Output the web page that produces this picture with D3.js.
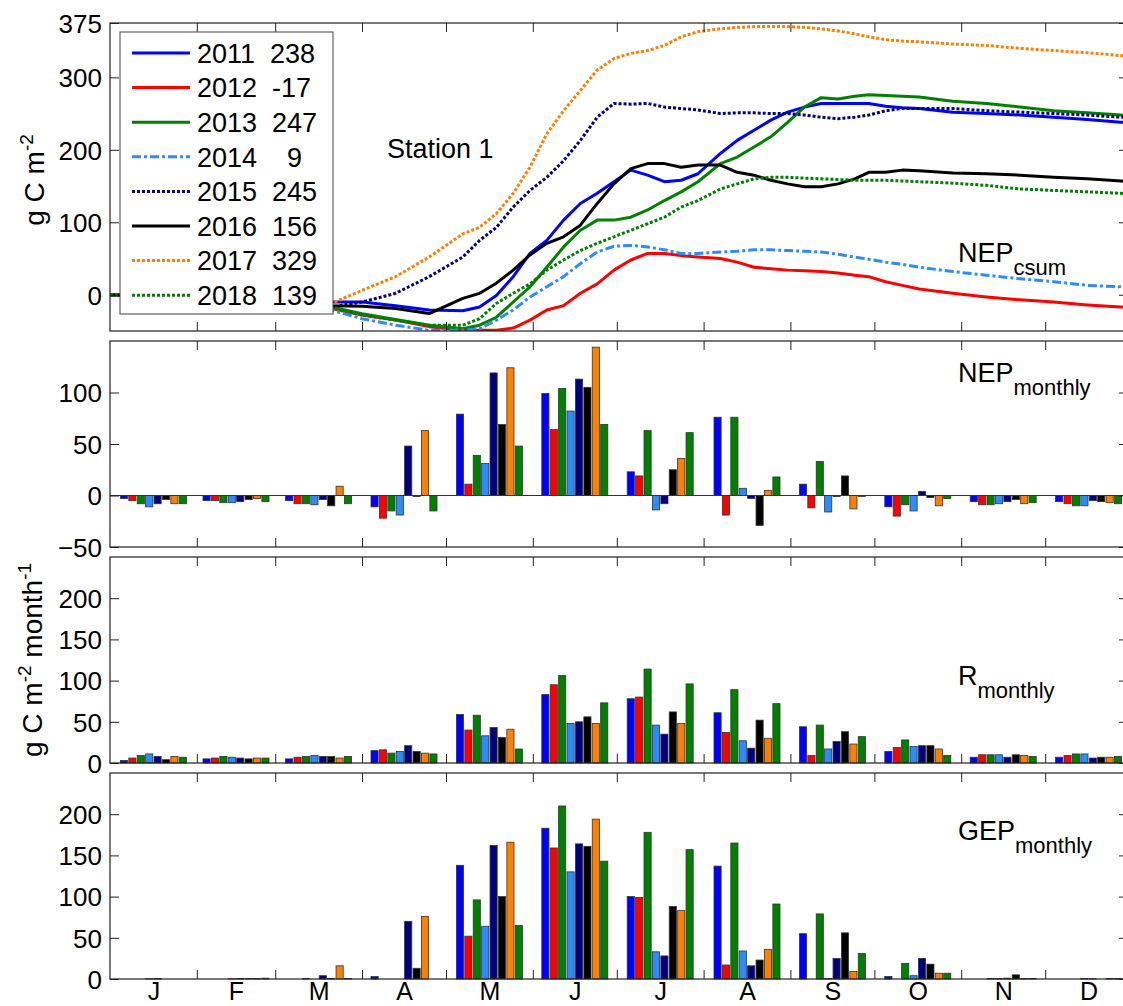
<!DOCTYPE html>
<html><head><meta charset="utf-8">
<script src="https://cdn.jsdelivr.net/npm/d3@7"></script>
<style>
body{margin:0;background:#fff}
svg{display:block}
text{font-family:"Liberation Sans",Arial,Helvetica,sans-serif;fill:#000}
</style>
</head><body>
<svg id="c" width="1123" height="1006"></svg>
<script>
// ---------------- DATA ----------------
const years = [2011, 2012, 2013, 2014, 2015, 2016, 2017, 2018];
const yearTotals = [238, -17, 247, 9, 245, 156, 329, 139];
const months = ["J","F","M","A","M","J","J","A","S","O","N","D"];
const monthStartDays = [0,31,59,90,120,151,181,212,243,273,304,334,365];

const csumDays = [0,31,59,79,90,102,114,126,132,138,144,150,156,162,168,174,180,186,192,198,204,210,218,224,230,236,242,248,254,260,266,271,277,283,289,301,313,325,337,349,361,365];
const csum2011 = [0,-5,-9,-10,-10,-15,-21,-22,-17,-1,25,57,75,103,126,140,156,172,165,156,158,167,195,213,227,241,252,259,264,264,264,264,260,258,257,252,250,248,245,242,238,238];
const csum2012 = [0,-5,-11,-19,-28,-35,-44,-49,-49,-49,-46,-35,-21,-15,2,15,34,48,57,57,54,52,50,45,38,36,34,33,32,30,27,25,18,13,8,2,-3,-7,-10,-14,-17,-17];
const csum2013 = [0,-5,-12,-17,-26,-34,-42,-47,-42,-31,-10,11,38,66,89,103,103,107,117,130,142,156,181,190,204,218,238,259,272,270,274,276,275,274,273,267,264,259,254,251,248,247];
const csum2014 = [0,-6,-14,-21,-33,-42,-49,-49,-47,-35,-21,-3,11,25,43,59,67,68,66,62,57,57,59,60,62,62,61,60,59,56,52,49,45,42,38,32,27,22,18,13,11,9];
const csum2015 = [0,-6,-13,-17,-10,2,25,52,75,93,121,144,162,185,213,245,264,263,264,259,257,255,250,251,251,250,250,248,245,243,245,248,254,257,257,257,254,252,250,248,245,245];
const csum2016 = [0,-4,-10,-15,-16,-19,-26,-5,2,16,34,55,71,80,96,126,153,174,181,181,176,179,179,169,165,158,153,149,149,153,160,169,169,172,171,168,167,165,162,160,157,156];
const csum2017 = [0,-3,-6,-12,6,25,52,84,93,112,140,176,222,254,282,310,326,333,337,344,356,363,367,369,370,370,370,369,367,364,360,356,352,350,349,346,344,340,337,334,330,329];
const csum2018 = [0,-5,-12,-17,-28,-35,-42,-42,-33,-12,2,15,34,48,61,71,80,89,98,107,121,130,146,153,160,162,162,161,160,159,158,158,158,157,156,154,151,146,144,142,140,139];

const nep2011 = [-3,-5,-5,-11,79,99,23,76,11,-11,-6,-6];
const nep2012 = [-5,-5,-8,-22,11,64,19,-19,-12,-20,-9,-8];
const nep2013 = [-8,-7,-8,-15,39,104,63,76,33,-9,-9,-10];
const nep2014 = [-11,-7,-9,-19,31,82,-14,7,-16,-15,-8,-10];
const nep2015 = [-8,-6,-4,48,119,113,-8,-3,-1,4,-6,-5];
const nep2016 = [-4,-4,-10,-1,69,105,25,-29,19,-2,-4,-6];
const nep2017 = [-8,-3,9,63,124,144,36,5,-13,-10,-8,-7];
const nep2018 = [-8,-6,-8,-15,48,69,61,18,-1,-3,-7,-8];

const r2011 = [3,5,5,15,59,83,78,61,44,14,7,7];
const r2012 = [6,6,7,16,40,95,80,37,9,19,10,9];
const r2013 = [9,8,8,12,58,106,114,89,46,28,10,11];
const r2014 = [11,7,9,14,33,48,46,27,17,20,10,11];
const r2015 = [8,6,8,21,43,50,35,18,26,21,7,6];
const r2016 = [4,5,8,14,31,56,62,52,38,21,10,7];
const r2017 = [8,6,6,12,41,48,48,30,23,17,9,7];
const r2018 = [7,6,8,11,17,73,96,72,32,9,8,8];

const gep2011 = [0,0,0,3,138,183,100,137,55,3,0,0];
const gep2012 = [0,0,0,0,52,159,99,17,0,0,0,0];
const gep2013 = [0,0,0.5,0,96,210,178,165,79,19,0.5,0];
const gep2014 = [0.3,0.3,0,0,64,130,33,34,0.5,4,0.5,0.5];
const gep2015 = [0.5,0.5,4,70,162,164,28,16,25,25,1,0.3];
const gep2016 = [0,0.5,0.5,13,100,161,88,23,56,18,5,0];
const gep2017 = [0,0.5,16,76,166,194,83,36,9,7,0.5,0.5];
const gep2018 = [0,1,0.5,0,65,143,157,91,31,7,0.5,0.5];

// ---------------- STYLE ----------------
const colors = ["#0000ff","#ff0000","#008000","#2b8cff","#000080","#000000","#ff8000","#008000"];
const dashes = [null,null,null,"9,3,3,3","3,2",null,"3,2","3,2"];
const csumAll = [csum2011,csum2012,csum2013,csum2014,csum2015,csum2016,csum2017,csum2018];
const nepAll = [nep2011,nep2012,nep2013,nep2014,nep2015,nep2016,nep2017,nep2018];
const rAll = [r2011,r2012,r2013,r2014,r2015,r2016,r2017,r2018];
const gepAll = [gep2011,gep2012,gep2013,gep2014,gep2015,gep2016,gep2017,gep2018];

const svg = d3.select("#c");
const X0 = 110, X1 = 1132;
const x = d3.scaleLinear().domain([0,365]).range([X0,X1]);
const midDays = months.map((m,i)=> (monthStartDays[i]+monthStartDays[i+1])/2);
const bandX = d3.scaleBand().domain(years).range([-33,33]).paddingInner(0.15);

const panels = [
  {y: d3.scaleLinear().domain([-50,375]).range([331,23]), ticks:[0,100,200,300,375]},
  {y: d3.scaleLinear().domain([-50,150]).range([547,341]), ticks:[-50,0,50,100], data:nepAll},
  {y: d3.scaleLinear().domain([0,250]).range([763,557]), ticks:[0,50,100,150,200], data:rAll},
  {y: d3.scaleLinear().domain([0,250]).range([979,773]), ticks:[0,50,100,150,200], data:gepAll}
];

const defs = svg.append("defs");
defs.append("clipPath").attr("id","clipTop").append("rect")
  .attr("x",X0).attr("y",23).attr("width",X1-X0).attr("height",308);

// ---- top panel lines ----
const p0 = panels[0];
const gLines = svg.append("g").attr("clip-path","url(#clipTop)");
const line = d3.line().x(d=>x(d[0])).y(d=>p0.y(d[1]));
years.forEach((yr,i)=>{
  const pts = csumDays.map((d,k)=>[d, csumAll[i][k]]);
  gLines.append("path").attr("d", line(pts))
    .attr("fill","none").attr("stroke",colors[i]).attr("stroke-width",3)
    .attr("stroke-linejoin","round")
    .attr("stroke-dasharray", dashes[i]);
});

// ---- bar panels ----
panels.slice(1).forEach(p=>{
  const g = svg.append("g");
  years.forEach((yr,i)=>{
    g.selectAll(null).data(p.data[i]).enter().append("rect")
      .attr("x",(v,m)=> x(midDays[m]) + bandX(yr))
      .attr("width", bandX.bandwidth())
      .attr("y", v=> Math.min(p.y(v), p.y(0)))
      .attr("height", v=> Math.abs(p.y(v)-p.y(0)))
      .attr("fill", colors[i]).attr("stroke","#333").attr("stroke-width",0.8);
  });
  if (p.y.domain()[0] < 0) {
    g.append("line").attr("x1",X0).attr("x2",X1).attr("y1",p.y(0)).attr("y2",p.y(0))
      .attr("stroke","#333").attr("stroke-width",1);
  }
});

// ---- axes / frames ----
const boundaryDays = monthStartDays.slice(1,12);
panels.forEach((p,pi)=>{
  const [yb, yt] = p.y.range();
  const gy = svg.append("g").attr("transform",`translate(${X0},0)`)
    .call(d3.axisLeft(p.y).tickValues(p.ticks).tickSizeInner(-9).tickSizeOuter(0).tickPadding(8));
  gy.select(".domain").remove();
  gy.selectAll("line").attr("stroke","#222");
  gy.selectAll("text").style("font-size","26px").attr("font-family",null).attr("dy","0.36em");
  const gr = svg.append("g").attr("transform",`translate(${X1},0)`)
    .call(d3.axisRight(p.y).tickValues(p.ticks).tickSizeInner(-13).tickSizeOuter(0).tickFormat(""));
  gr.select(".domain").remove();
  gr.selectAll("line").attr("stroke","#222");
  const gt = svg.append("g").attr("transform",`translate(0,${yt})`)
    .call(d3.axisTop(x).tickValues(boundaryDays).tickSizeInner(-9).tickSizeOuter(0).tickFormat(""));
  gt.select(".domain").remove(); gt.selectAll("line").attr("stroke","#222");
  const gb = svg.append("g").attr("transform",`translate(0,${yb})`)
    .call(d3.axisBottom(x).tickValues(boundaryDays).tickSizeInner(-9).tickSizeOuter(0).tickFormat(""));
  gb.select(".domain").remove(); gb.selectAll("line").attr("stroke","#222");
  svg.append("rect").attr("x",X0).attr("y",yt).attr("width",X1-X0).attr("height",yb-yt)
    .attr("fill","none").attr("stroke","#222").attr("stroke-width",1.2);
});

// month labels
const gm = svg.append("g").attr("transform",`translate(0,979)`)
  .call(d3.axisBottom(x).tickValues(midDays).tickSize(0).tickPadding(3).tickFormat((d,i)=>months[i]));
gm.select(".domain").remove();
gm.selectAll("text").style("font-size","25px").attr("font-family",null);

// ---- legend ----
const lg = svg.append("g");
lg.append("rect").attr("x",120).attr("y",32).attr("width",213).attr("height",282)
  .attr("fill","#fff").attr("stroke","#444").attr("stroke-width",1);
years.forEach((yr,i)=>{
  const cy = 53 + i*34.6;
  lg.append("line").attr("x1",132).attr("x2",190).attr("y1",cy).attr("y2",cy)
    .attr("stroke",colors[i]).attr("stroke-width",3).attr("stroke-dasharray",dashes[i]);
  lg.append("text").attr("x",197).attr("y",cy).attr("dy","0.36em")
    .style("font-size","27px").style("white-space","pre")
    .text(yr + " " + String(yearTotals[i]).padStart(4," "));
});

// ---- annotations ----
svg.append("text").attr("x",387).attr("y",158).style("font-size","27px").text("Station 1");
function subLabel(xp, yp, main, sub){
  const t = svg.append("text").attr("x",xp).attr("y",yp).style("font-size","27px");
  t.append("tspan").text(main);
  t.append("tspan").attr("dy",13).style("font-size","22px").text(sub);
}
subLabel(958, 262, "NEP", "csum");
subLabel(958, 382, "NEP", "monthly");
subLabel(958, 685, "R", "monthly");
subLabel(958, 840, "GEP", "monthly");

// ---- y titles ----
const t1 = svg.append("text").attr("transform","translate(44,180) rotate(-90)")
  .attr("text-anchor","middle").style("font-size","28px");
t1.append("tspan").text("g C m");
t1.append("tspan").attr("dy",-11).style("font-size","19px").text("-2");

const t2 = svg.append("text").attr("transform","translate(42,660) rotate(-90)")
  .attr("text-anchor","middle").style("font-size","28px");
t2.append("tspan").text("g C m");
t2.append("tspan").attr("dy",-11).style("font-size","19px").text("-2");
t2.append("tspan").attr("dy",11).text(" month");
t2.append("tspan").attr("dy",-11).style("font-size","19px").text("-1");
</script>
</body></html>
